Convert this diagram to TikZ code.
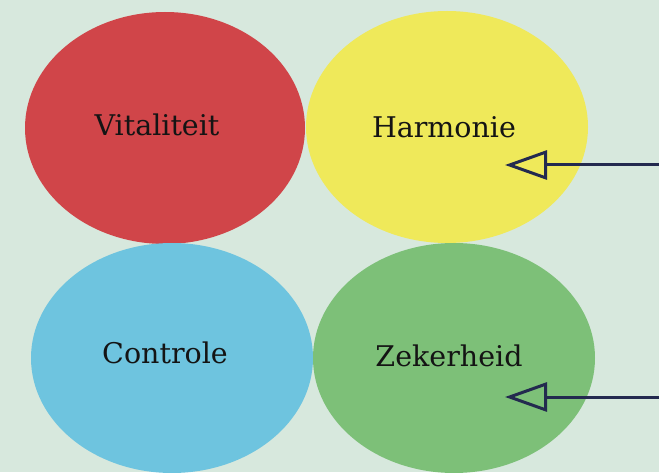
\documentclass[tikz,border=0pt]{standalone}
\usepackage{fontspec}
\setmainfont{DejaVu Serif}
\usetikzlibrary{arrows.meta}
\definecolor{bg}{HTML}{D7E8DD}
\definecolor{cred}{HTML}{D04549}
\definecolor{cyel}{HTML}{EFE95A}
\definecolor{cblue}{HTML}{6EC4DF}
\definecolor{cgreen}{HTML}{7DC078}
\definecolor{navy}{HTML}{232A4F}
\tikzset{
  lbl/.style={font=\fontsize{28.5}{32}\selectfont, text=black!92, inner sep=0pt},
  pointer/.style={draw=navy, line width=3pt, -{Triangle[open, length=42pt, width=29pt, line width=3pt]}}
}
\begin{document}
\begin{tikzpicture}[x=1pt,y=1pt]
\fill[bg] (0,0) rectangle (659,472);
\useasboundingbox (0,0) rectangle (659,472);
\fill[cred] (165,344) ellipse [x radius=140, y radius=116];
\fill[cyel] (447,345) ellipse [x radius=141, y radius=116];
\fill[cblue] (172,114) ellipse [x radius=141, y radius=115];
\fill[cgreen] (454,114) ellipse [x radius=141, y radius=115];
\node[lbl] (vit) at (157,347) {Vitaliteit};
\node[lbl] (har) at (444,345) {Harmonie};
\node[lbl] (con) at (165,119) {Controle};
\node[lbl] (zek) at (449,116) {Zekerheid};
\coordinate (s1) at (662,307);
\coordinate (t1) at (505,307);
\coordinate (s2) at (662,75);
\coordinate (t2) at (505,75);
\draw[pointer] (s1) -- (t1);
\draw[pointer] (s2) -- (t2);
\end{tikzpicture}
\end{document}
